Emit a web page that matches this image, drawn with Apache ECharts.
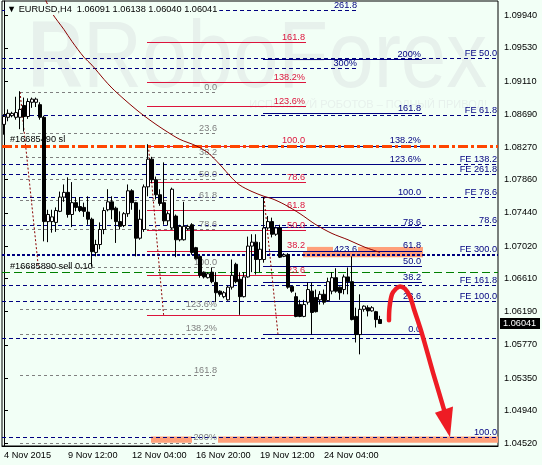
<!DOCTYPE html>
<html><head><meta charset="utf-8">
<script src="https://cdn.jsdelivr.net/npm/echarts@6.0.0/dist/echarts.min.js"></script>
<style>html,body{margin:0;padding:0;background:#F2FFF6;}#c{width:542px;height:465px;}</style>
</head><body><div id="c"></div>
<script>
// ---------- data ----------
const tickLabels = ['4 Nov 2015','9 Nov 12:00','12 Nov 04:00','16 Nov 20:00','19 Nov 12:00','24 Nov 04:00'];
const yTickValues = [1.09940,1.09530,1.09110,1.08690,1.08270,1.07860,1.07440,1.07020,1.06610,1.06190,1.05770,1.05350,1.04940,1.04520];

const barOpen = [1.0856,1.0865,1.0867,1.0865,1.0865,1.0880,1.0866,1.0884,1.0884,1.0881,
1.0865,1.0733,1.0733,1.0732,1.0746,1.0764,1.0770,1.0742,1.0757,1.0752,
1.0751,1.0745,1.0736,1.0694,1.0704,1.0723,1.0748,1.0758,1.0750,1.0733,
1.0728,1.0743,1.0772,1.0757,1.0712,1.0723,1.0777,1.0812,1.0786,1.0767,
1.0757,1.0734,1.0725,1.0740,1.0710,1.0710,1.0724,1.0729,1.0700,1.0689,
1.0669,1.0662,1.0669,1.0656,1.0645,1.0638,1.0634,1.0650,1.0679,1.0660,
1.0638,1.0663,1.0702,1.0707,1.0685,1.0685,1.0725,1.0733,1.0717,1.0725,
1.0689,1.0691,1.0651,1.0638,1.0628,1.0613,1.0631,1.0645,1.0637,1.0634,
1.0641,1.0633,1.0645,1.0662,1.0650,1.0647,1.0663,1.0657,1.0613,1.0590,
1.0622,1.0624,1.0620,1.0619,1.06091];
const barClose = [1.0866,1.0870,1.0870,1.0871,1.0875,1.0866,1.0885,1.0888,1.0888,1.0865,
1.0733,1.0742,1.0739,1.0747,1.0764,1.0770,1.0742,1.0757,1.0751,1.0747,
1.0746,1.0736,1.0695,1.0704,1.0723,1.0747,1.0758,1.0748,1.0733,1.0727,
1.0743,1.0772,1.0757,1.0712,1.0736,1.0777,1.0812,1.0786,1.0767,1.0756,
1.0734,1.0743,1.0774,1.0710,1.0727,1.0727,1.0727,1.0694,1.0686,1.0665,
1.0663,1.0667,1.0657,1.0643,1.0641,1.0643,1.0650,1.0665,1.0657,1.0638,
1.0663,1.0702,1.0707,1.0685,1.0698,1.0725,1.0733,1.0717,1.0725,1.0688,
1.0691,1.0650,1.0645,1.0613,1.0613,1.0628,1.0647,1.0618,1.0619,1.0641,
1.0631,1.0657,1.0662,1.0645,1.0643,1.0663,1.0657,1.0609,1.0590,1.0622,
1.0626,1.0620,1.0624,1.0609,1.06041];
const barLow = [1.0843,1.0860,1.0865,1.0862,1.0850,1.0847,1.0863,1.0877,1.0878,1.0862,
1.0708,1.0707,1.0719,1.0720,1.0745,1.0758,1.0738,1.0726,1.0746,1.0745,
1.0739,1.0729,1.0676,1.0689,1.0698,1.0717,1.0746,1.0736,1.0706,1.0723,
1.0726,1.0739,1.0748,1.0689,1.0710,1.0720,1.0765,1.0782,1.0761,1.0753,
1.0729,1.0728,1.0723,1.0688,1.0708,1.0709,1.0722,1.0691,1.0685,1.0662,
1.0661,1.0661,1.0655,1.0631,1.0638,1.0636,1.0633,1.0647,1.0655,1.0615,
1.0637,1.0662,1.0669,1.0666,1.0669,1.0681,1.0723,1.0713,1.0715,1.0687,
1.0688,1.0648,1.0643,1.0612,1.0612,1.0612,1.0628,1.0590,1.0618,1.0628,
1.0628,1.0632,1.0641,1.0643,1.0634,1.0641,1.0641,1.0608,1.0580,1.0565,
1.0619,1.0613,1.0619,1.0599,1.06040];
const barHigh = [1.0869,1.0875,1.0872,1.0891,1.0898,1.0890,1.0889,1.0890,1.0890,1.0884,
1.0867,1.0748,1.0748,1.0751,1.0771,1.0780,1.0789,1.0783,1.0764,1.0764,
1.0757,1.0765,1.0738,1.0710,1.0732,1.0751,1.0774,1.0765,1.0752,1.0746,
1.0745,1.0780,1.0774,1.0758,1.0748,1.0780,1.0831,1.0815,1.0790,1.0774,
1.0808,1.0746,1.0776,1.0742,1.0729,1.0758,1.0729,1.0731,1.0701,1.0691,
1.0670,1.0669,1.0675,1.0669,1.0646,1.0645,1.0652,1.0685,1.0681,1.0669,
1.0669,1.0714,1.0717,1.0717,1.0707,1.0764,1.0740,1.0738,1.0727,1.0729,
1.0693,1.0693,1.0652,1.0643,1.0634,1.0634,1.0656,1.0656,1.0647,1.0645,
1.0647,1.0662,1.0669,1.0674,1.0651,1.0666,1.0675,1.0689,1.0624,1.0641,
1.0627,1.0627,1.0626,1.0620,1.06138];

const maBar = [10,12,15,17,20,22,25,27,30,33,35,38,41,44,48,51,54,57,59,62,65,67,70,74,78,82,86,90,94];
const maVal = [1.1018,1.0997,1.0976,1.0961,1.0941,1.0931,1.0913,1.0902,1.0888,1.0875,1.0867,1.0856,1.0846,1.0837,1.0829,1.0820,1.0805,1.0788,1.0779,1.0771,1.0765,1.0762,1.0755,1.0743,1.0729,1.0718,1.0710,1.0701,1.0694];

const feLevels = [1.0940,1.0867,1.0805,1.0793,1.0764,1.0728,1.0652,1.0632,1.0586,1.0460];
const feLabels = ['FE 50.0','FE 61.8','FE 138.2','FE 261.8','FE 78.6','78.6','FE 161.8','FE 100.0','','100.0'];
const fe300Level = 1.0691;
const extLevels = [1.1000,1.0927,1.0691];
const extLabels = ['261.8','300%','423.6'];
const redLevels = [1.0960,1.0909,1.0879,1.0829,1.0783,1.0747,1.0722,1.0696,1.0665,1.0615];
const redLabels = ['161.8','138.2%','123.6%','100.0','78.6','61.8','50.0','38.2','23.6',''];
const grayLevels = [1.0897,1.0845,1.0814,1.0786,1.0760,1.0723,1.0675,1.0622,1.0591,1.0538,1.0453];
const grayLabels = ['0.0','23.6','38.2','50.0','61.8','78.6','100.0','123.6%','138.2%','161.8','200%'];
const navyLevels = [1.0938,1.0870,1.0829,1.0805,1.0764,1.0726,1.0696,1.0676,1.0656,1.0632,1.0590];
const navyLabels = ['200%','161.8','138.2%','123.6%','100.0','78.6','61.8','50.0','38.2','23.6','0.0'];
const slLevel = 1.0829, sellLevel = 1.0669, lastPrice = 1.06041;
const trendLines = [[[4.0,1.0897],[8.6,1.0675]],[[36.1,1.0829],[39.9,1.0615]],[[65.0,1.0764],[68.5,1.0590]]];
const zones = [[[74.75,1.0695],[104.75,1.0688]],[[75.75,1.0701],[82.25,1.0695]],[[88.5,1.0701],[104.75,1.0695]],[[36.75,1.0461],[47.0,1.0453]],[[53.5,1.0461],[123.5,1.0453]]];
const arrowX = [96.25,96.375,97,98,99,100.25,101.5,102.5,104.5,107.25,109.25,110];
const arrowY = [1.0608,1.0624,1.0641,1.0648,1.0651,1.0648,1.0638,1.0622,1.0591,1.0542,1.0508,1.0495];
const arrowHead = [[111.5,1.0460],[107.75,1.0491],[112.25,1.0499]];

// ---------- categories (H4 bars, weekends skipped) ----------
const MON = ['Jan','Feb','Mar','Apr','May','Jun','Jul','Aug','Sep','Oct','Nov','Dec'];
const categories = [];
(function(){ let t = Date.UTC(2015,10,4,20); while (categories.length < 124) { const d = new Date(t); const wd = d.getUTCDay();
  if (wd !== 0 && wd !== 6) categories.push(d.getUTCDate()+' '+MON[d.getUTCMonth()]+' '+String(d.getUTCHours()).padStart(2,'0')+':00');
  t += 4*3600e3; } })();

// ---------- styles ----------
const BG = '#F2FFF6', NAVY = '#000080', GRAY = '#808080', RED = '#DC143C';
const WM = '#E7F1EC';
const FF = 'Liberation Sans', FS = 9.2;

function lbl(text, color, pos, dist) {
  if (!text) return {show:false};
  return {show:true, formatter:text, position:pos||'insideEndTop', color:color, fontSize:FS, fontFamily:FF, distance:dist||[1,0], lineHeight:10};
}
function full(v, color, type, width, text, tcolor, pos, dist) {
  return {yAxis:v, lineStyle:{color:color, type:type, width:width}, label:lbl(text, tcolor||color, pos, dist)};
}
function seg(x1, x2, v, color, type, width, text, lineColor) {
  return [{coord:[x1,v], lineStyle:{color:lineColor||color, type:type, width:width}, label:lbl(text, color)}, {coord:[x2,v]}];
}

const lines = [];
grayLevels.forEach((v,i)=>lines.push(seg(4.0, 53.5, v, GRAY, [3,3], 1, grayLabels[i])));
feLevels.forEach((v,i)=>lines.push(full(v, NAVY, [4,3], 1, feLabels[i])));
lines.push(full(fe300Level, NAVY, [3,2], 2, 'FE 300.0'));
extLevels.forEach((v,i)=>lines.push(seg(-0.5, 88.5, v, NAVY, [4,3], 1, extLabels[i], i===2?'rgba(0,0,0,0)':null)));
redLevels.forEach((v,i)=>lines.push(seg(35.75, 75.5, v, RED, 'solid', 1, redLabels[i])));
navyLevels.forEach((v,i)=>lines.push(seg(64.75, 104.5, v, NAVY, 'solid', 1, navyLabels[i])));
trendLines.forEach(t=>lines.push([{coord:t[0], lineStyle:{color:'#8B0000', type:[2,2], width:1}, label:{show:false}}, {coord:t[1]}]));
lines.push(full(slLevel, '#FF4500', [10,3,3,3], 3, '#16685490 sl', '#000', 'insideStartTop', [8,1]));
lines.push(full(sellLevel, '#008000', [8,4], 1, '#16685890 sell 0.10', '#000', 'insideStartTop', [8,1]));

const chart = echarts.init(document.getElementById('c'), null, {renderer:'canvas'});
const option = {
  animation:false,
  backgroundColor:BG,
  textStyle:{fontFamily:FF},
  title:{text:'▼ EURUSD,H4  1.06091 1.06138 1.06040 1.06041', left:5, top:4, padding:[1,2,1,2], backgroundColor:BG, z:20,
    textStyle:{fontSize:FS, fontWeight:'normal', color:'#000', fontFamily:FF}},
  grid:{left:2, right:44, top:1, bottom:19, show:true, borderColor:'#000', borderWidth:1, backgroundColor:BG},
  xAxis:[{type:'category', data:categories, boundaryGap:true,
      axisLine:{lineStyle:{color:'#000'}},
      axisTick:{alignWithLabel:true, length:4, lineStyle:{color:'#000'}, interval:(i)=>i%16===0 && i<=80},
      axisLabel:{interval:(i)=>i%16===0 && i<=80, formatter:(v,i)=>tickLabels[i/16]||'', align:'left', margin:5, color:'#000', fontSize:FS, fontFamily:FF},
      splitLine:{show:false}},
    {type:'value', min:-0.5, max:123.5, show:false}],
  yAxis:{type:'value', position:'right', min:1.04490, max:1.10122,
    axisLine:{show:true, lineStyle:{color:'#000'}},
    axisTick:{show:true, length:4, lineStyle:{color:'#000'}, customValues:yTickValues},
    axisLabel:{customValues:yTickValues, formatter:(v)=>v.toFixed(5), margin:6, color:'#000', fontSize:FS, fontFamily:FF},
    splitLine:{show:false}},
  graphic:[
    {id:'wmR', type:'text', x:28, y:61, scaleX:0.8, z:0, silent:true, style:{text:'R', font:'bold 95px "Liberation Sans"', fill:WM, verticalAlign:'middle'}},
    {id:'wm1', type:'text', x:83, y:61, scaleX:0.86, z:0, silent:true, style:{text:'RoboForex', font:'95px "Liberation Sans"', fill:WM, verticalAlign:'middle'}},
    {id:'wm2', type:'text', x:487, y:105, z:0, silent:true, style:{text:'ИСПОЛЬЗУЙ РОБОТОВ – ПОЛНЫЙ ПРИВОД!', font:'11px "Liberation Sans"', fill:WM, align:'right', verticalAlign:'middle'}}
  ],
  series:[
    {id:'zones', type:'line', xAxisIndex:1, data:[[-10,1.07]], symbol:'none', z:1, silent:true,
      markArea:{silent:true, precision:6, itemStyle:{color:'#FFA07A'}, data:zones.map(z=>[{coord:z[0]},{coord:z[1]}])}},
    {id:'levels', type:'line', xAxisIndex:1, data:[[-10,1.07]], symbol:'none', z:2, silent:true,
      markLine:{silent:true, precision:6, symbol:['none','none'], animation:false, data:lines}},
    {id:'candles', type:'candlestick', xAxisIndex:0, z:5, silent:true, barWidth:3,
      data:barOpen.map((o,i)=>[o, barClose[i], barLow[i], barHigh[i]]),
      itemStyle:{color:'#FFFFFF', color0:'#000000', borderColor:'#000000', borderColor0:'#000000', borderColorDoji:'#000000', borderWidth:1}},
    {id:'ma', type:'line', xAxisIndex:1, z:6, silent:true, smooth:0.3, symbol:'none', clip:true,
      data:maBar.map((b,i)=>[b, maVal[i]]), lineStyle:{color:'#8B0000', width:1}}
  ]
};
chart.setOption(option);

const px = p => chart.convertToPixel({seriesId:'levels'}, p);
const shaft = arrowX.map((x,i)=>px([x, arrowY[i]]));
const head = arrowHead.map(p=>px(p));
const pricePt = px([123.5, lastPrice]);
chart.setOption({graphic:[
  {id:'arrowShaft', type:'polyline', z:100, silent:true, shape:{points:shaft, smooth:0.35}, style:{stroke:'#EE1C24', lineWidth:4.5, fill:null, lineCap:'round'}},
  {id:'arrowHead', type:'polygon', z:100, silent:true, shape:{points:head}, style:{fill:'#EE1C24'}},
  {id:'priceBox', type:'rect', z:100, silent:true, shape:{x:pricePt[0]+2, y:Math.round(pricePt[1])-5, width:40, height:11}, style:{fill:'#000'}},
  {id:'priceText', type:'text', z:101, silent:true, x:pricePt[0]+5, y:Math.round(pricePt[1])+0.5,
    style:{text:lastPrice.toFixed(5), fill:'#fff', font:FS+'px "'+FF+'"', verticalAlign:'middle'}}
]});
</script></body></html>
